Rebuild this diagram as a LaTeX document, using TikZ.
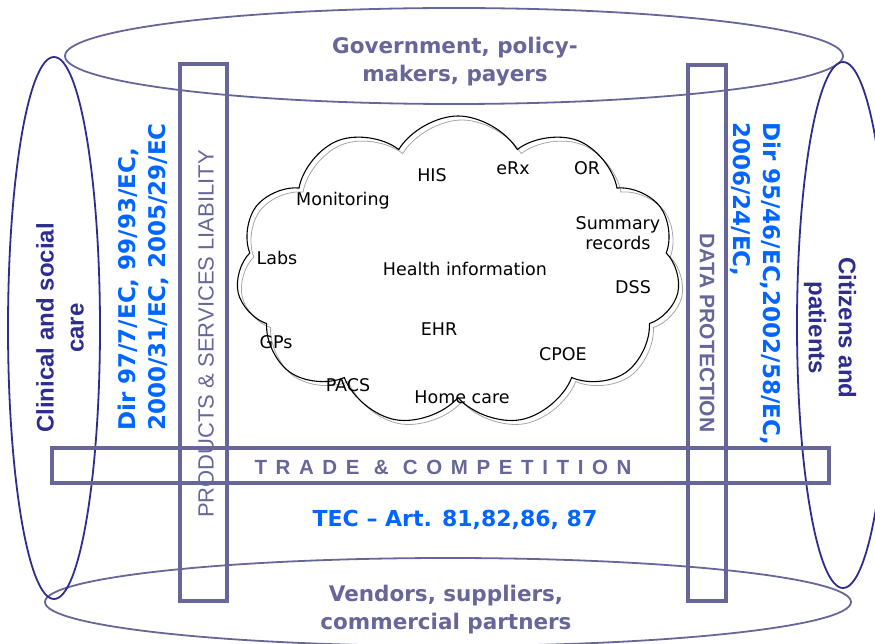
\documentclass[tikz,border=0pt]{standalone}
\usepackage{fontspec}
\setmainfont{DejaVu Sans}
\newfontfamily\arialfont{Liberation Sans}
\usetikzlibrary{shapes.symbols}
\definecolor{slate}{RGB}{102,102,153}
\definecolor{navy}{RGB}{45,45,145}
\definecolor{dirblue}{RGB}{0,102,255}

\begin{document}
\begin{tikzpicture}[x=1pt,y=-1pt,
    stakeholder/.style={draw=slate,line width=1.8pt},
    actor/.style={draw=navy,line width=1.8pt},
    bar/.style={draw=slate,line width=4pt},
    heading/.style={text=slate,font=\fontsize{21.5}{28}\selectfont\bfseries,align=center,inner sep=0pt},
    actorlabel/.style={text=navy,font=\arialfont\fontsize{24}{30}\selectfont\bfseries,align=center,inner sep=0pt},
    law/.style={text=dirblue,font=\fontsize{23}{30}\selectfont\bfseries,align=left,inner sep=0pt},
    barlabel/.style={text=slate,inner sep=0pt},
    item/.style={font=\fontsize{17.5}{20}\selectfont,align=center,inner sep=0pt},
    puffs/.style={cloud,cloud puffs=11,cloud puff arc=118,aspect=1.45,minimum width=444pt,minimum height=310pt}]
    \useasboundingbox (0,0) rectangle (875,644);
    \clip (0,0) rectangle (875,644);

    \draw[stakeholder] (454,56) ellipse [x radius=389,y radius=48];
    \draw[stakeholder] (448,602) ellipse [x radius=403,y radius=44];
    \draw[actor] (54,328) ellipse [x radius=46,y radius=271];
    \draw[actor] (843,325) ellipse [x radius=46,y radius=263];

    \draw[bar] (180,64) rectangle (227,601);
    \draw[bar] (688,65) rectangle (726,601);
    \draw[bar] (52,448) rectangle (829,483);

    \node[heading] (gov) at (455,62) {Government, policy-\\makers, payers};
    \node[heading] (vendors) at (446,610) {Vendors, suppliers,\\commercial partners};
    \node[actorlabel,rotate=90] (clinical) at (60,328) {Clinical and social\\care};
    \node[actorlabel,rotate=-90] (citizens) at (830,328) {Citizens and\\patients};

    \node[law,rotate=90,anchor=west] (dirleft) at (143,431) {Dir 97/7/EC, 99/93/EC,\\2000/31/EC, 2005/29/EC};
    \node[law,rotate=-90,anchor=west] (dirright) at (756,122) {Dir 95/46/EC,2002/58/EC,\\2006/24/EC,};
    \node[law,font=\fontsize{22}{30}\selectfont\bfseries] (tec) at (455,520) {TEC -- Art. 81,82,86, 87};

    \node[barlabel,rotate=90,font=\arialfont\fontsize{22}{26}\selectfont] (liability) at (206,334) {PRODUCTS \& SERVICES LIABILITY};
    \node[barlabel,rotate=-90,font=\arialfont\fontsize{21}{26}\selectfont\bfseries] (dataprot) at (707,333) {DATA PROTECTION};
    \node[barlabel,font=\arialfont\fontsize{20.5}{26}\selectfont\bfseries\addfontfeature{LetterSpace=42}] (trade) at (443,467) {TRADE \& COMPETITION};

    \node[puffs,draw=gray!70,line width=0.8pt] (shadow) at (462,275) {};
    \node[puffs,draw=black,line width=1.1pt] (info) at (458,271) {};

    \node[item] (his) at (432,175) {HIS};
    \node[item] (erx) at (513,168) {eRx};
    \node[item] (or) at (587,168) {OR};
    \node[item] (monitoring) at (343,201) {Monitoring};
    \node[item] (summary) at (618,233) {Summary\\records};
    \node[item] (labs) at (277,258) {Labs};
    \node[item] (health) at (465,269) {Health information};
    \node[item] (dss) at (633,287) {DSS};
    \node[item] (ehr) at (439,329) {EHR};
    \node[item] (gps) at (276,342) {GPs};
    \node[item] (cpoe) at (563,354) {CPOE};
    \node[item] (pacs) at (348,385) {PACS};
    \node[item] (home) at (462,397) {Home care};
\end{tikzpicture}
\end{document}
